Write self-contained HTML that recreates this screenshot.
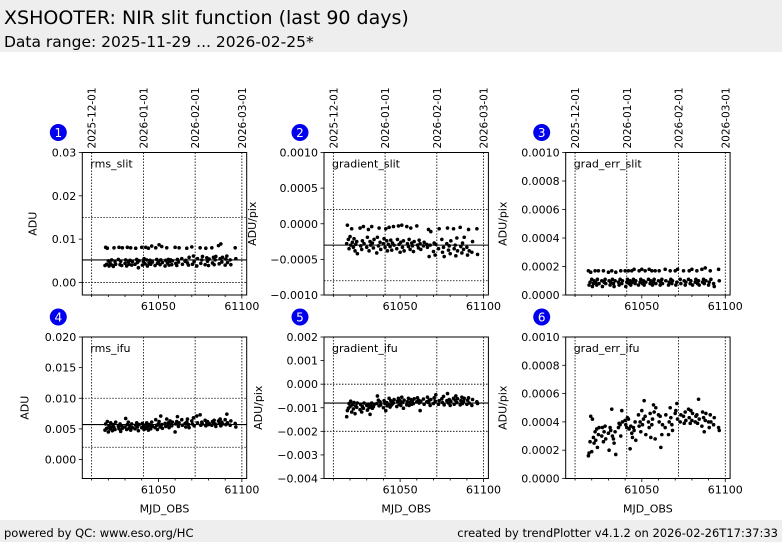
<!DOCTYPE html>
<html><head><meta charset="utf-8"><style>
html,body{margin:0;padding:0;background:#fff;}
svg{display:block;font-family:"DejaVu Sans","Liberation Sans",sans-serif;}
</style></head><body>
<svg id="c" width="782" height="542" viewBox="0 0 782 542">
<rect x="0" y="0" width="782" height="52" fill="#eeeeee"/>
<text x="4" y="24" font-size="19" fill="#000">XSHOOTER: NIR slit function (last 90 days)</text>
<text x="4" y="47" font-size="15.5" fill="#000">Data range: 2025-11-29 ... 2026-02-25*</text>
<rect x="0" y="520" width="782" height="22" fill="#eeeeee"/>
<text x="4" y="537" font-size="11.5">powered by QC: www.eso.org/HC</text>
<text x="778" y="537" font-size="11.5" text-anchor="end">created by trendPlotter v4.1.2 on 2026-02-26T17:37:33</text>
</svg>
<script>
const mjd=[61018,61018.4,61019,61019.4,61020,61020.4,61021,61021.4,61022,61022.4,
61023,61023.4,61024,61024.4,61026,61026.4,61027,61027.4,61028,61028.4,
61030,61030.4,61031,61031.4,61032,61032.4,61033,61033.4,61034,61034.4,
61036,61036.4,61037,61037.4,61038,61038.4,61040,61040.4,61041,61041.4,
61042,61042.4,61043,61043.4,61044,61044.4,61045,61045.4,61046,61046.4,
61048,61048.4,61049,61049.4,61050,61050.4,61051,61051.4,61052,61052.4,
61054,61054.4,61055,61055.4,61056,61056.4,61057,61057.4,61058,61058.4,
61060,61060.4,61061,61061.4,61062,61062.4,61064,61064.4,61066,61066.4,
61067,61067.4,61068,61068.4,61070,61070.4,61071,61071.4,61073,61073.4,
61075,61075.4,61076,61076.4,61078,61078.4,61079,61079.4,61080,61080.4,
61082,61082.4,61083,61083.4,61084,61084.4,61086,61086.4,61087,61087.4,
61088,61088.4,61090,61090.4,61091,61091.4,61093,61093.4,61096,61096.4];
const rmsSlit=[.0039,.0081,.0042,.0079,.0050,.0038,.0045,.0041,.0052,.0040,
.0037,.0080,.0048,.0042,.0053,.0081,.0041,.0049,.0039,.0080,
.0044,.0052,.0038,.0081,.0047,.0042,.0051,.0080,.0040,.0048,
.0042,.0079,.0053,.0046,.0034,.0050,.0081,.0040,.0048,.0055,
.0043,.0081,.0052,.0038,.0079,.0045,.0051,.0042,.0084,.0047,
.0039,.0080,.0053,.0044,.0048,.0087,.0041,.0052,.0083,.0046,
.0038,.0051,.0080,.0045,.0053,.0040,.0049,.0052,.0041,.0050,
.0081,.0044,.0039,.0053,.0047,.0080,.0055,.0042,.0049,.0051,
.0079,.0045,.0040,.0058,.0082,.0042,.0061,.0048,.0038,.0055,
.0080,.0044,.0052,.0060,.0041,.0079,.0057,.0049,.0039,.0054,
.0080,.0045,.0058,.0041,.0052,.0060,.0085,.0043,.0055,.0089,
.0047,.0058,.0040,.0054,.0061,.0046,.0052,.0041,.0080,.0055];
const gradSlit=[-.00028,-.00002,-.00022,-.00035,-.00018,-.00030,-.00007,-.00026,-.00033,-.00021,
-.00038,-.00029,-.00025,-.00042,-.00006,-.00031,-.00036,-.00024,-.00004,-.00028,
-.00033,-.00019,-.00008,-.00038,-.00025,-.00030,-.00004,-.00027,-.00034,-.00022,
-.00041,-.00019,-.00031,-.00006,-.00026,-.00036,-.00028,-.00021,-.00033,-.00007,
-.00024,-.00038,-.00029,-.00005,-.00032,-.00023,-.00037,-.00027,-.00004,-.00030,
-.00035,-.00022,-.00003,-.00029,-.00040,-.00026,-.00002,-.00033,-.00024,-.00038,
-.00004,-.00028,-.00032,-.00022,-.00036,-.00006,-.00027,-.00031,-.00039,-.00025,
-.00003,-.00030,-.00034,-.00023,-.00028,-.00036,-.00031,-.00026,-.00029,-.00033,
-.00008,-.00046,-.00030,-.00011,-.00039,-.00027,-.00044,-.00029,-.00035,-.00007,
-.00022,-.00040,-.00033,-.00046,-.00028,-.00006,-.00037,-.00031,-.00042,-.00024,
-.00007,-.00035,-.00030,-.00045,-.00020,-.00038,-.00005,-.00032,-.00041,-.00027,
-.00036,-.00019,-.00033,-.00044,-.00008,-.00038,-.00040,-.00025,-.00007,-.00043];
const gradErrSlit=[.00017,.00007,.00009,.00016,.00011,.00006,.00008,.00010,.00017,.00009,
.00007,.00011,.00017,.00008,.00010,.00006,.00017,.00009,.00011,.00008,
.00016,.00010,.00007,.00009,.00017,.00011,.00008,.00006,.00010,.00016,
.00009,.00007,.00011,.00017,.00008,.00010,.00017,.00006,.00009,.00011,
.00017,.00008,.00010,.00007,.00017,.00009,.00011,.00018,.00008,.00010,
.00007,.00017,.00009,.00011,.00018,.00008,.00010,.00007,.00017,.00009,
.00011,.00018,.00008,.00010,.00017,.00007,.00009,.00011,.00017,.00008,
.00010,.00017,.00007,.00009,.00011,.00008,.00018,.00010,.00007,.00009,
.00017,.00011,.00008,.00010,.00017,.00007,.00009,.00018,.00011,.00008,
.00017,.00010,.00007,.00009,.00011,.00017,.00008,.00010,.00018,.00007,
.00009,.00011,.00017,.00008,.00010,.00007,.00018,.00009,.00011,.00008,
.00019,.00010,.00007,.00009,.00017,.00011,.00008,.00006,.00018,.00010];
const rmsIfu=[.0048,.0058,.0051,.0062,.0045,.0055,.0050,.0060,.0053,.0047,
.0057,.0052,.0049,.0061,.0054,.0050,.0058,.0046,.0055,.0051,
.0053,.0067,.0049,.0057,.0061,.0051,.0055,.0048,.0058,.0052,
.0050,.0056,.0060,.0053,.0047,.0057,.0052,.0059,.0054,.0049,
.0056,.0051,.0060,.0053,.0048,.0057,.0055,.0050,.0061,.0054,
.0052,.0065,.0056,.0049,.0058,.0062,.0053,.0071,.0057,.0051,
.0059,.0054,.0066,.0056,.0060,.0052,.0063,.0057,.0055,.0061,
.0045,.0058,.0062,.0070,.0054,.0060,.0065,.0056,.0059,.0053,
.0061,.0066,.0057,.0052,.0063,.0058,.0068,.0055,.0071,.0060,
.0073,.0056,.0061,.0058,.0064,.0055,.0060,.0062,.0057,.0059,
.0056,.0062,.0060,.0064,.0058,.0054,.0063,.0059,.0066,.0055,
.0061,.0058,.0065,.0057,.0074,.0060,.0056,.0063,.0059,.0053];
const gradIfu=[-.00138,-.00112,-.00102,-.00082,-.00095,-.00072,-.00118,-.00088,-.00105,-.00078,
-.00125,-.00092,-.00098,-.00080,-.00108,-.00086,-.00118,-.00095,-.00102,-.00080,
-.00090,-.00110,-.00085,-.00100,-.00128,-.00092,-.00080,-.00102,-.00095,-.00087,
-.00082,-.00050,-.00068,-.00092,-.00075,-.00088,-.00100,-.00070,-.00083,-.00112,
-.00078,-.00092,-.00085,-.00060,-.00097,-.00070,-.00088,-.00076,-.00080,-.00065,
-.00095,-.00072,-.00060,-.00085,-.00070,-.00090,-.00055,-.00078,-.00102,-.00068,
-.00088,-.00074,-.00060,-.00090,-.00078,-.00065,-.00085,-.00070,-.00082,-.00062,
-.00075,-.00058,-.00068,-.00080,-.00112,-.00072,-.00063,-.00085,-.00075,-.00055,
-.00078,-.00068,-.00090,-.00065,-.00082,-.00058,-.00072,-.00045,-.00085,-.00070,
-.00062,-.00078,-.00052,-.00088,-.00070,-.00040,-.00080,-.00065,-.00090,-.00072,
-.00060,-.00085,-.00068,-.00050,-.00078,-.00062,-.00088,-.00070,-.00055,-.00082,
-.00072,-.00060,-.00085,-.00068,-.00058,-.00080,-.00090,-.00065,-.00075,-.00082];
const gradErrIfu=[.00016,.00018,.00026,.00044,.00019,.00042,.00029,.00025,.00033,.00027,
.00035,.00022,.00031,.00036,.00030,.00036,.00026,.00033,.00037,.00028,
.00032,.00020,.00036,.00034,.00049,.00030,.00028,.00025,.00033,.00017,
.00036,.00039,.00038,.00030,.00048,.00040,.00041,.00038,.00036,.00043,
.00042,.00035,.00021,.00037,.00032,.00029,.00036,.00034,.00040,.00027,
.00045,.00037,.00040,.00033,.00048,.00038,.00042,.00055,.00044,.00031,
.00040,.00036,.00046,.00029,.00038,.00042,.00052,.00047,.00028,.00050,
.00045,.00040,.00044,.00022,.00031,.00038,.00036,.00045,.00031,.00040,
.00050,.00043,.00038,.00034,.00046,.00048,.00053,.00042,.00040,.00045,
.00044,.00039,.00047,.00041,.00049,.00043,.00039,.00048,.00041,.00046,
.00040,.00044,.00045,.00039,.00056,.00042,.00037,.00047,.00043,.00033,
.00041,.00046,.00040,.00036,.00045,.00040,.00038,.00043,.00036,.00034];
const dateLabels=["2025-12-01","2026-01-01","2026-02-01","2026-03-01"];
const dateMjd=[61010,61041,61072,61100];
const xTicks=[61050,61100];
const panelNames=["rms_slit","gradient_slit","grad_err_slit","rms_ifu","gradient_ifu","grad_err_ifu"];
const panelUnits=["ADU","ADU/pix","ADU/pix","ADU","ADU/pix","ADU/pix"];
const yTicks1=["0.00","0.01","0.02","0.03"];
const yTicks2=["-0.0010","-0.0005","0.0000","0.0005","0.0010"];
const yTicks3=["0.0000","0.0002","0.0004","0.0006","0.0008","0.0010"];
const yTicks4=["0.000","0.005","0.010","0.015","0.020"];
const yTicks5=["-0.004","-0.003","-0.002","-0.001","0.000","0.001","0.002"];
const yTicks6=["0.0000","0.0002","0.0004","0.0006","0.0008","0.0010"];
const yDomains=[[-0.0029,0.03],[-0.001,0.001],[0,0.001],[-0.0031,0.02],[-0.004,0.002],[0,0.001]];
const refLines=[[0.015,0.0],[0.0002,-0.0008],[],[0.010,0.002],[0.0,-0.002],[]];
const meanLines=[0.0052,-0.0003,null,0.0057,-0.0008,null];

const svg=document.getElementById('c');
const NS='http://www.w3.org/2000/svg';
function mk(tag,attrs,parent){const e=document.createElementNS(NS,tag);for(const k in attrs)e.setAttribute(k,attrs[k]);(parent||svg).appendChild(e);return e;}
const series=[rmsSlit,gradSlit,gradErrSlit,rmsIfu,gradIfu,gradErrIfu];
const tickSets=[yTicks1,yTicks2,yTicks3,yTicks4,yTicks5,yTicks6];
const yTitleOff=[46,68,59,54,62,59];
const colL=[82.3,324,565.7], colW=164.4;
const rowT=[152.5,337], rowB=[295,478.5];
const xDom=[61004.4,61102.9];
for(let p=0;p<6;p++){
  const c=p%3,r=Math.floor(p/3);
  const L=colL[c],R=L+colW,T=rowT[r],B=rowB[r];
  const sx=v=>L+(v-xDom[0])/(xDom[1]-xDom[0])*(R-L);
  const yd=yDomains[p];
  const sy=v=>B-(v-yd[0])/(yd[1]-yd[0])*(B-T);
  const g=mk('g',{});
  
  
  dateMjd.forEach((m,i)=>{
    const x=sx(m);
    const ln=mk('line',{x1:x,x2:x,y1:T,y2:B,stroke:'#000','stroke-width':0.8,'stroke-dasharray':'1.5,1.5'},g);
    
    
    if(r===0){
      const t=mk('text',{x:0,y:0,'font-size':10.5,transform:`translate(${x+4},${T-4}) rotate(-90)`},g);
      t.textContent=dateLabels[i];
      
      
    }
  });
  refLines[p].forEach(v=>{
    const ln=mk('line',{x1:L,x2:R,y1:sy(v),y2:sy(v),stroke:'#000','stroke-width':0.8,'stroke-dasharray':'1.5,1.5'},g);
    
    
  });
  if(meanLines[p]!==null){
    const ln=mk('line',{x1:L,x2:R,y1:sy(meanLines[p]),y2:sy(meanLines[p]),stroke:'#000','stroke-width':1.1},g);
    
    
  }
  const s=series[p];
  for(let i=0;i<mjd.length&&i<s.length;i++){
    const d=mk('circle',{cx:sx(mjd[i]),cy:sy(s[i]),r:1.8,fill:'#000'},g);
    
    
  }
  const fr=mk('rect',{x:L,y:T,width:R-L,height:B-T,fill:'none',stroke:'#000','stroke-width':1},g);
  
  
  const tk=tickSets[p];
  tk.forEach(lab=>{
    const v=parseFloat(lab);const y=sy(v);
    mk('line',{x1:L-3.5,x2:L,y1:y,y2:y,stroke:'#000','stroke-width':0.8},g);
    const t=mk('text',{x:L-6,y:y+4,'font-size':11,'text-anchor':'end'},g);
    t.textContent=lab.replace('-','\u2212');
    
    
  });
  for(let m=61010;m<=61100;m+=10){
    const x=sx(m);const major=xTicks.includes(m);
    mk('line',{x1:x,x2:x,y1:B,y2:B+(major?3.5:2),stroke:'#000','stroke-width':0.8},g);
  }
  xTicks.forEach(m=>{
    const t=mk('text',{x:sx(m),y:B+15,'font-size':11,'text-anchor':'middle'},g);
    t.textContent=m;
    
    
  });
  if(r===1){
    const t=mk('text',{x:(L+R)/2,y:B+34,'font-size':11,'text-anchor':'middle'},g);
    t.textContent='MJD_OBS';
    
    
  }
  const yl=mk('text',{x:0,y:0,'font-size':11,'text-anchor':'middle',transform:`translate(${L-yTitleOff[p]},${(T+B)/2}) rotate(-90)`},g);
  yl.textContent=panelUnits[p];
  
  
  const nm=mk('text',{x:L+8,y:T+15,'font-size':11},g);
  nm.textContent=panelNames[p];
  
  
  const bx=L-24,by=T-20;
  const bc=mk('circle',{cx:bx,cy:by,r:8.5,fill:'#0000ee'},g);
  
  
  const bt=mk('text',{x:bx,y:by+4.5,'font-size':12,'text-anchor':'middle',fill:'#fff'},g);
  bt.textContent=String(p+1);
  
  
}
</script>
</body></html>
